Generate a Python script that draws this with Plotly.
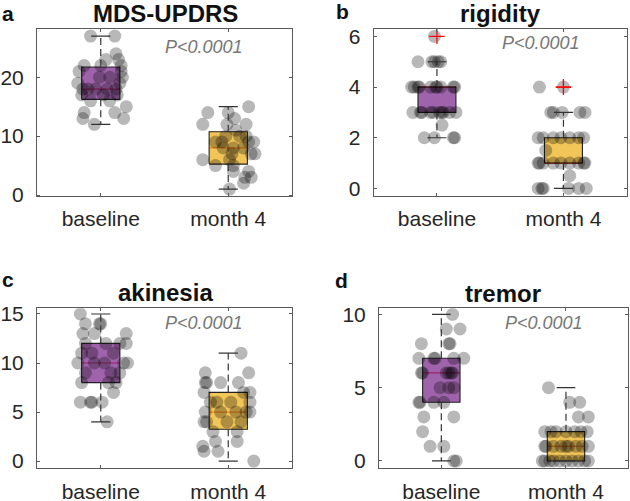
import math
import plotly.graph_objects as go

# ---------------- data ----------------
CATEGORIES = ["baseline", "month 4"]
PANEL_TITLES = ["MDS-UPDRS", "rigidity", "akinesia", "tremor"]
PANEL_LETTERS = ["a", "b", "c", "d"]
P_TEXT = "P<0.0001"

# MDS-UPDRS
updrs_baseline = [12, 13, 13, 14, 14, 15, 16, 16, 17, 17, 17, 18, 18, 18, 18, 18,
                  19, 19, 20, 20, 20, 21, 21, 22, 22, 22, 23, 23, 24, 27, 27]
updrs_baseline_jit = [-0.05, -0.14, 0.18, -0.13, 0.11, 0.20, -0.08, 0.07, -0.15, 0.13, 0.02,
                      -0.04, -0.14, 0.12, 0.05, -0.10, -0.18, 0.15, -0.01, 0.07, 0.17,
                      -0.17, 0.16, -0.13, 0.16, 0.00, 0.04, 0.14, 0.12, -0.08, 0.11]
updrs_month4 = [1, 2, 3, 3, 4, 4, 5, 5, 6, 6, 7, 7, 7, 8, 8, 8, 9, 9, 9, 9,
                10, 10, 10, 11, 12, 12, 12, 13, 14, 14, 15]
updrs_month4_jit = [0.01, 0.12, 0.13, 0.18, 0.04, 0.16, -0.10, 0.04, -0.20, 0.01,
                    0.18, 0.03, 0.21, 0.04, -0.04, 0.12, 0.20, -0.05, -0.10, 0.16,
                    0.09, -0.02, 0.14, 0.06, -0.20, -0.01, 0.14, 0.05, -0.16, 0.00, 0.16]

# rigidity
rigidity_baseline = [2, 2, 2, 2, 2.5, 3, 3, 3, 3, 3, 3, 3, 3, 3, 3,
                     4, 4, 4, 4, 4, 4, 4, 4, 4, 4, 5, 5, 5, 5, 5, 6]
rigidity_baseline_jit = [-0.10, -0.02, 0.14, 0.13, 0.04,
                         -0.19, -0.13, -0.12, -0.05, -0.03, 0.02, 0.04, 0.05, 0.10, 0.15,
                         -0.20, -0.18, -0.15, -0.14, -0.01, 0.00, 0.13, 0.14, 0.03, -0.05,
                         -0.15, -0.04, -0.02, 0.01, 0.03, -0.02]
rigidity_month4 = [0, 0, 0, 0, 0, 0, 0.5, 1, 1, 1, 1, 1, 1, 1, 1, 1, 1.5,
                   2, 2, 2, 2, 2, 2, 2, 3, 3, 3, 3, 3, 4, 4]
rigidity_month4_jit = [-0.20, -0.17, -0.16, 0.04, 0.12, 0.18, 0.05,
                       -0.20, -0.19, -0.16, -0.08, -0.02, 0.05, 0.12, 0.16, 0.17, -0.14,
                       -0.20, -0.16, -0.08, -0.02, 0.05, 0.12, 0.16,
                       -0.10, -0.08, -0.01, 0.13, 0.17, -0.19, 0.00]

# akinesia
akinesia_baseline = [4, 6, 6, 6, 6, 7, 8, 8, 8, 9, 9, 9, 10, 10, 10, 10, 10,
                     11, 11, 11, 12, 12, 12, 12, 13, 13, 13, 14, 14, 14, 15]
akinesia_baseline_jit = [0.05, -0.16, -0.08, -0.07, 0.01, 0.10, -0.15, 0.12, 0.06,
                         -0.12, 0.15, 0.08, -0.18, -0.05, 0.03, 0.21, 0.18,
                         -0.15, 0.10, -0.07, -0.12, 0.04, 0.15, 0.20,
                         -0.14, -0.05, 0.20, -0.12, -0.01, 0.00, -0.16]
akinesia_month4 = [0, 1, 1, 1.5, 2, 2, 3, 3, 4, 4, 4, 4, 5, 5, 5, 5, 5,
                   6, 6, 6, 6, 7, 7, 7, 8, 8, 8, 8, 9, 9, 11]
akinesia_month4_jit = [0.20, -0.19, -0.08, -0.20, 0.07, -0.10, -0.12, 0.07,
                       -0.19, -0.17, -0.01, 0.10, -0.18, 0.14, -0.06, 0.06, 0.17,
                       -0.09, 0.02, 0.17, -0.14, 0.17, -0.19, 0.12,
                       -0.18, -0.17, -0.06, 0.08, -0.18, 0.16, 0.10]

# tremor
tremor_baseline = [0, 0, 1, 1, 2, 3, 3, 4, 4, 4, 4, 5, 5, 5, 6, 6, 6, 6, 6, 6,
                   7, 7, 7, 7, 7, 8, 8, 8, 9, 9, 10]
tremor_baseline_jit = [0.10, 0.12, -0.09, 0.02, -0.15, -0.14, 0.10,
                       -0.18, -0.17, -0.06, 0.02, -0.01, 0.06, 0.10,
                       -0.16, -0.15, 0.04, 0.08, 0.06, 0.09,
                       -0.18, -0.06, -0.05, 0.10, 0.18, -0.16, 0.06, 0.07, 0.04, 0.15, 0.09]
tremor_month4 = [0, 0, 0, 0, 0, 0, 0, 0, 0, 0, 1, 1, 1, 1, 1, 1, 1, 1, 1,
                 2, 2, 2, 2, 2, 2, 2, 3, 3, 4, 4, 5]
tremor_month4_jit = [-0.17, -0.13, -0.10, -0.05, 0.00, 0.05, 0.10, 0.15, 0.18, -0.19,
                     -0.17, -0.16, -0.10, -0.04, 0.02, 0.08, 0.13, 0.18, 0.00,
                     -0.17, -0.08, 0.00, 0.07, 0.12, 0.17, -0.12,
                     0.10, 0.18, 0.03, 0.11, -0.14]

PANELS = [
    (updrs_baseline, updrs_baseline_jit, updrs_month4, updrs_month4_jit),
    (rigidity_baseline, rigidity_baseline_jit, rigidity_month4, rigidity_month4_jit),
    (akinesia_baseline, akinesia_baseline_jit, akinesia_month4, akinesia_month4_jit),
    (tremor_baseline, tremor_baseline_jit, tremor_month4, tremor_month4_jit),
]
Y_TICKS = [[0, 10, 20], [0, 2, 4, 6], [0, 5, 10, 15], [0, 5, 10]]
Y_RANGES = [[-0.17, 28.15], [-0.3, 6.28], [-0.74, 15.58], [-0.5, 10.41]]

# ---------------- style / layout ----------------
W, H = 630, 501
FONT = "Liberation Sans, Arial, Helvetica, sans-serif"
BOX_FILL = ["rgba(126,47,142,0.75)", "rgba(237,177,32,0.75)"]
BOX_W = 0.30
CAP_W = 0.15
AX_COLOR = "#5a5a5a"
TXT_COLOR = "#262626"

# plot areas in pixels: (left, right, top, bottom)
AREAS = [(37, 292, 29.3, 196), (373.7, 626.7, 29.3, 196),
         (37, 292, 308.3, 468.3), (379, 628.3, 308.3, 468.3)]
TITLE_POS = [(165, 13), (501, 14), (165, 292.7), (503, 293)]
LETTER_POS = [(0, 13), (334, 12), (0, 279), (333, 280)]
PTEXT_POS = [(204, 47), (541, 43.5), (204, 322.7), (544, 322.7)]


def prctile(vals, p):
    s = sorted(vals)
    n = len(s)
    pos = p / 100.0 * n + 0.5
    if pos <= 1:
        return s[0]
    if pos >= n:
        return s[-1]
    i = int(math.floor(pos))
    f = pos - i
    return s[i - 1] + f * (s[i] - s[i - 1])


def box_stats(vals):
    q1 = prctile(vals, 25)
    med = prctile(vals, 50)
    q3 = prctile(vals, 75)
    iqr = q3 - q1
    hi_lim = q3 + 1.5 * iqr
    lo_lim = q1 - 1.5 * iqr
    inside = [v for v in vals if lo_lim <= v <= hi_lim]
    outl = [v for v in vals if v < lo_lim or v > hi_lim]
    return q1, med, q3, min(inside), max(inside), outl


fig = go.Figure()
annotations = []

for k, (b_vals, b_jit, m_vals, m_jit) in enumerate(PANELS):
    sfx = "" if k == 0 else str(k + 1)
    xa, ya = "x" + sfx, "y" + sfx
    groups = [(1, b_vals, b_jit), (2, m_vals, m_jit)]

    for gi, (c, vals, jit) in enumerate(groups):
        q1, med, q3, lo, hi, outl = box_stats(vals)
        # median (underneath the translucent box)
        fig.add_trace(go.Scatter(x=[c - BOX_W / 2, c + BOX_W / 2], y=[med, med],
                                 mode="lines", line=dict(color="red", width=1.2),
                                 xaxis=xa, yaxis=ya, showlegend=False, hoverinfo="skip"))
        # box
        fig.add_trace(go.Scatter(x=[c - BOX_W / 2, c + BOX_W / 2, c + BOX_W / 2, c - BOX_W / 2, c - BOX_W / 2],
                                 y=[q1, q1, q3, q3, q1], mode="lines", fill="toself",
                                 fillcolor=BOX_FILL[gi], line=dict(color="#222222", width=1.1),
                                 xaxis=xa, yaxis=ya, showlegend=False, hoverinfo="skip"))
    for gi, (c, vals, jit) in enumerate(groups):
        # jittered points
        fig.add_trace(go.Scatter(x=[c + j for j in jit], y=vals, mode="markers",
                                 marker=dict(size=13, color="rgba(0,0,0,0.28)", line=dict(width=0)),
                                 xaxis=xa, yaxis=ya, showlegend=False))
    for gi, (c, vals, jit) in enumerate(groups):
        q1, med, q3, lo, hi, outl = box_stats(vals)
        # whiskers (dashed)
        fig.add_trace(go.Scatter(x=[c, c, None, c, c], y=[q3, hi, None, q1, lo], mode="lines",
                                 line=dict(color="#333333", width=1.2, dash="7px,4px"),
                                 xaxis=xa, yaxis=ya, showlegend=False, hoverinfo="skip"))
        # caps
        fig.add_trace(go.Scatter(x=[c - CAP_W / 2, c + CAP_W / 2, None, c - CAP_W / 2, c + CAP_W / 2],
                                 y=[hi, hi, None, lo, lo], mode="lines",
                                 line=dict(color="#333333", width=1.2),
                                 xaxis=xa, yaxis=ya, showlegend=False, hoverinfo="skip"))
        # outliers
        if outl:
            fig.add_trace(go.Scatter(x=[c] * len(outl), y=outl, mode="markers",
                                     marker=dict(symbol="cross-thin-open", size=11,
                                                 color="#ff0000",
                                                 line=dict(color="#ff0000", width=1.2)),
                                     xaxis=xa, yaxis=ya, showlegend=False))

    left, right, top, bottom = AREAS[k]
    axis_common = dict(showline=True, linecolor=AX_COLOR, linewidth=1, mirror="ticks",
                       ticks="inside", ticklen=3, tickcolor=AX_COLOR, showgrid=False,
                       zeroline=False, automargin=False,
                       tickfont=dict(family=FONT, size=21, color=TXT_COLOR))
    fig.update_layout(**{
        "xaxis" + sfx: dict(axis_common, domain=[left / W, right / W], range=[0.5, 2.5],
                            tickvals=[1, 2], ticktext=CATEGORIES, anchor=ya,
                            ticklabelstandoff=4),
        "yaxis" + sfx: dict(axis_common, domain=[1 - bottom / H, 1 - top / H],
                            range=Y_RANGES[k], tickvals=Y_TICKS[k], anchor=xa,
                            ticklabelstandoff=8),
    })

    tx, ty = TITLE_POS[k]
    annotations.append(dict(text="<b>%s</b>" % PANEL_TITLES[k], x=tx / W, y=1 - ty / H,
                            xref="paper", yref="paper", showarrow=False,
                            xanchor="center", yanchor="middle",
                            font=dict(family=FONT, size=24, color="#111111")))
    lx, ly = LETTER_POS[k]
    annotations.append(dict(text="<b>%s</b>" % PANEL_LETTERS[k], x=lx / W, y=1 - ly / H,
                            xref="paper", yref="paper", showarrow=False,
                            xanchor="left", yanchor="middle",
                            font=dict(family=FONT, size=21, color="#111111")))
    px, py = PTEXT_POS[k]
    annotations.append(dict(text="<i>%s</i>" % P_TEXT, x=px / W, y=1 - py / H,
                            xref="paper", yref="paper", showarrow=False,
                            xanchor="center", yanchor="middle",
                            font=dict(family=FONT, size=18, color="#777777")))

fig.update_layout(width=W, height=H, margin=dict(l=0, r=0, t=0, b=0),
                  paper_bgcolor="white", plot_bgcolor="white",
                  annotations=annotations, showlegend=False)

fig.write_html("out.html", config={"displayModeBar": False},
               post_script="document.body.style.margin='0';")
